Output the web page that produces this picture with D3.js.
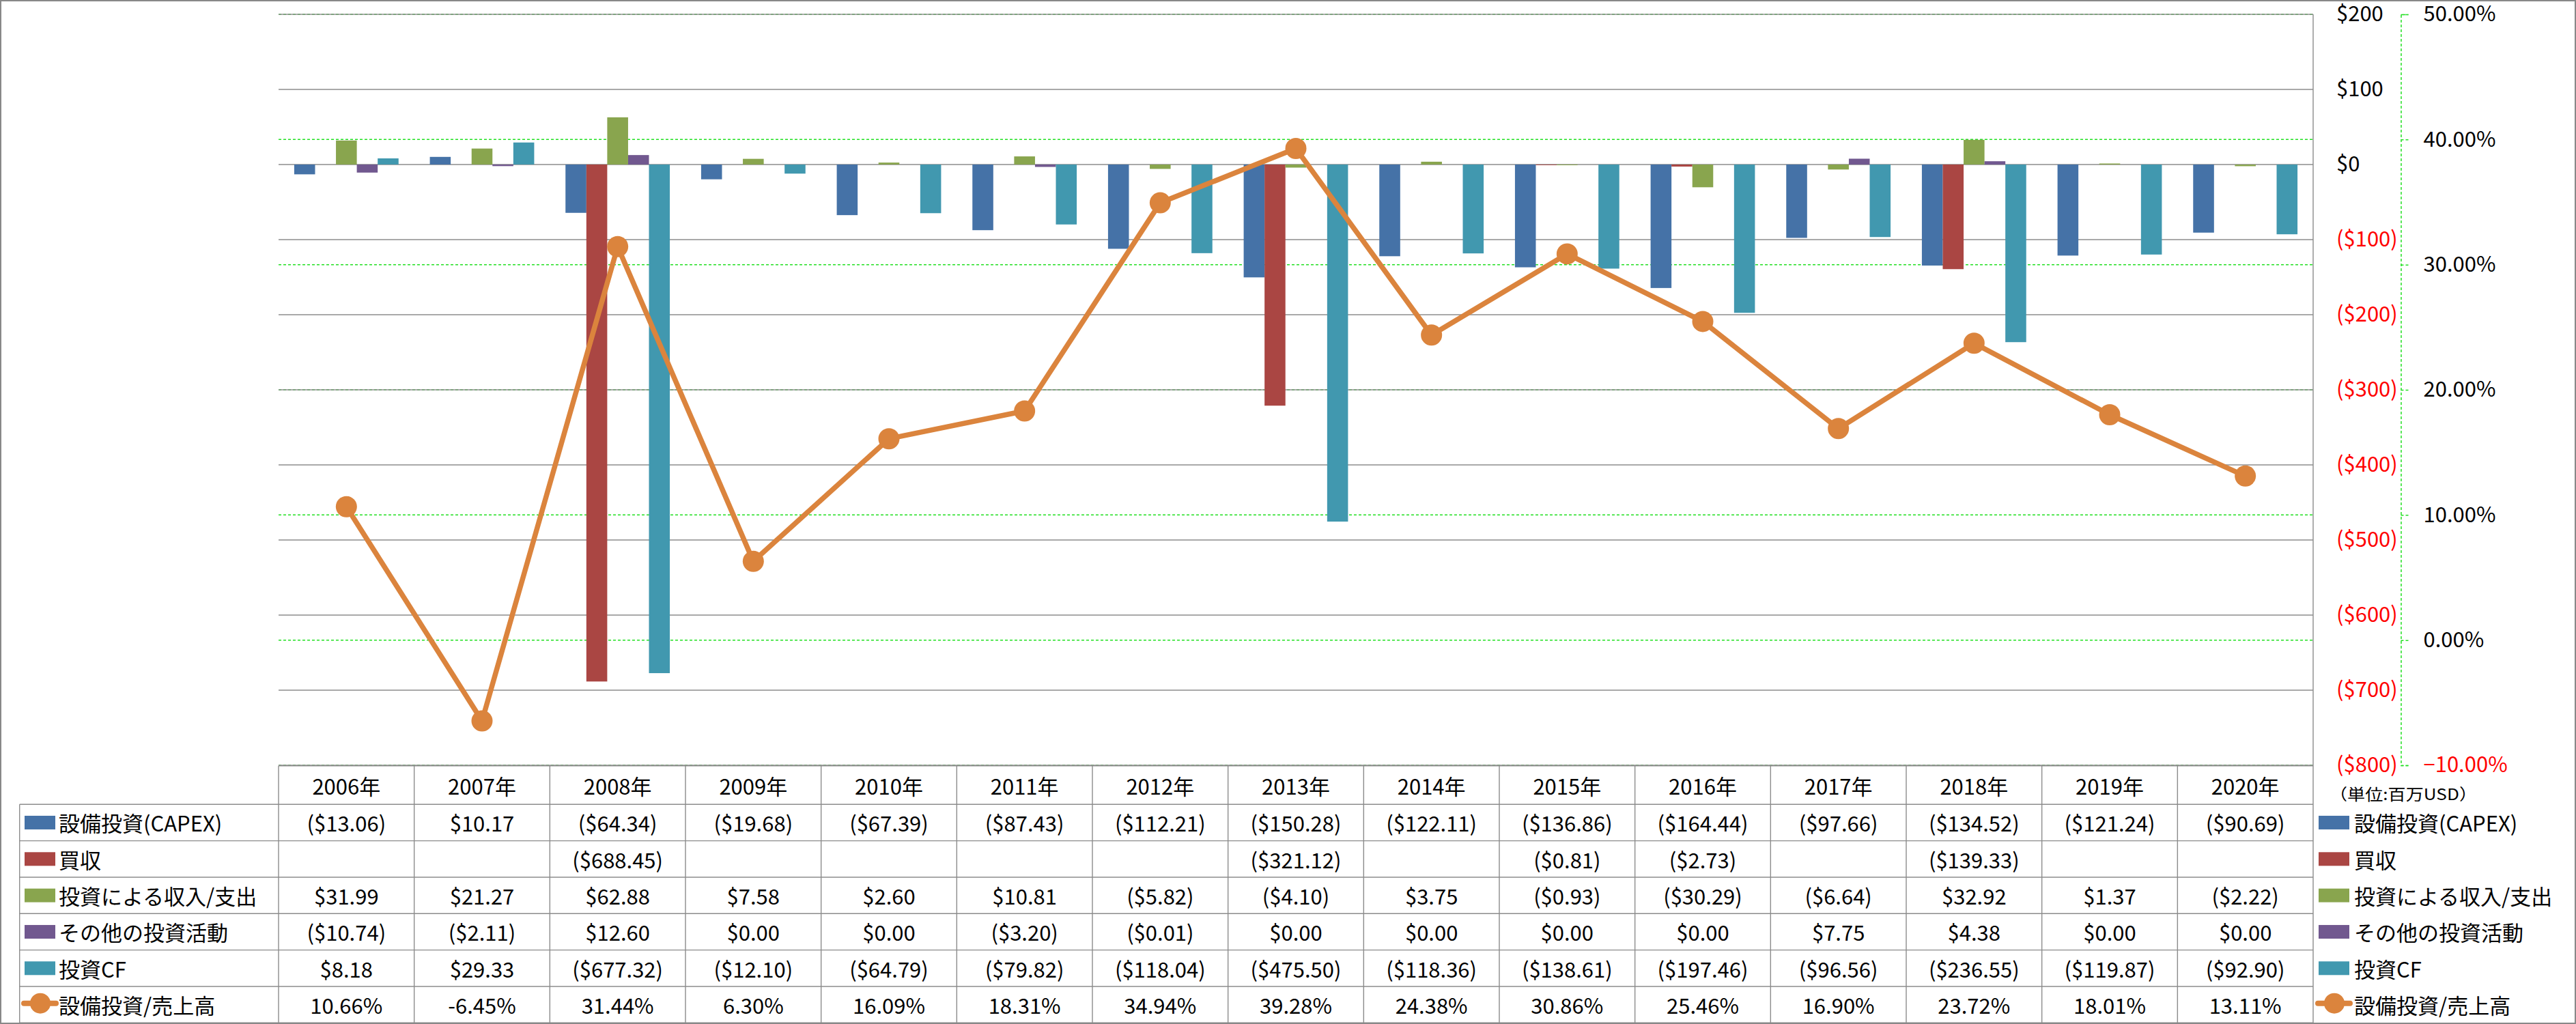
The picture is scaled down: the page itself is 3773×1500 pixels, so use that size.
<!DOCTYPE html>
<html>
<head>
<meta charset="utf-8">
<script src="https://cdn.jsdelivr.net/npm/d3@7"></script>
<style>
  html, body { margin: 0; padding: 0; background: #fff; }
  svg { display: block; }
</style>
</head>
<body>
<svg id="chart" width="3773" height="1500"></svg>
<script>
// ---------------- DATA ----------------
const years = ["2006年","2007年","2008年","2009年","2010年","2011年","2012年","2013年","2014年","2015年","2016年","2017年","2018年","2019年","2020年"];
const capex       = [-13.06, 10.17, -64.34, -19.68, -67.39, -87.43, -112.21, -150.28, -122.11, -136.86, -164.44, -97.66, -134.52, -121.24, -90.69];
const acquisition = [null, null, -688.45, null, null, null, null, -321.12, null, -0.81, -2.73, null, -139.33, null, null];
const invIncome   = [31.99, 21.27, 62.88, 7.58, 2.60, 10.81, -5.82, -4.10, 3.75, -0.93, -30.29, -6.64, 32.92, 1.37, -2.22];
const otherInv    = [-10.74, -2.11, 12.60, 0.00, 0.00, -3.20, -0.01, 0.00, 0.00, 0.00, 0.00, 7.75, 4.38, 0.00, 0.00];
const investCF    = [8.18, 29.33, -677.32, -12.10, -64.79, -79.82, -118.04, -475.50, -118.36, -138.61, -197.46, -96.56, -236.55, -119.87, -92.90];
const capexRatio  = [10.66, -6.45, 31.44, 6.30, 16.09, 18.31, 34.94, 39.28, 24.38, 30.86, 25.46, 16.90, 23.72, 18.01, 13.11];

const barSeriesNames = ["設備投資(CAPEX)", "買収", "投資による収入/支出", "その他の投資活動", "投資CF"];
const lineSeriesName = "設備投資/売上高";
const dollarTicks = [200, 100, 0, -100, -200, -300, -400, -500, -600, -700, -800];
const pctTicks = [50, 40, 30, 20, 10, 0, -10];
const unitLabel = "（単位:百万USD）";

// ---------------- STYLE ----------------
const barColors = ["#4572A7", "#AA4643", "#89A54E", "#71588F", "#4198AF"];
const lineColor = "#DB843D";
const gridGray = "#8c8c8c";
const gridGreen = "#22e022";
const FONT = "'Noto Sans CJK JP', 'Noto Sans', sans-serif";
const FS = 31;

const barSeries = [capex, acquisition, invIncome, otherInv, investCF];

const W = 3773, H = 1500;
const plot = { left: 408, right: 3388, top: 21, bottom: 1121 };

const svg = d3.select("#chart").attr("font-family", FONT);

// ---------------- SCALES ----------------
const x = d3.scaleBand().domain(years).range([plot.left, plot.right]).paddingInner(0).paddingOuter(0);
const xSub = d3.scaleBand().domain(d3.range(barSeries.length)).range([0, x.bandwidth()]).paddingInner(0).paddingOuter(0.75);
const yL = d3.scaleLinear().domain([-800, 200]).range([plot.bottom, plot.top]);
const yR = d3.scaleLinear().domain([-10, 50]).range([plot.bottom, plot.top]);

// ---------------- GRIDLINES ----------------
svg.append("g").selectAll("line").data(pctTicks).join("line")
  .attr("x1", plot.left).attr("x2", plot.right)
  .attr("y1", d => yR(d)).attr("y2", d => yR(d))
  .attr("stroke", gridGreen).attr("stroke-width", 1.5).attr("stroke-dasharray", "4,3");

svg.append("g").selectAll("line").data(dollarTicks).join("line")
  .attr("x1", plot.left).attr("x2", plot.right)
  .attr("y1", d => yL(d)).attr("y2", d => yL(d))
  .attr("stroke", gridGray).attr("stroke-width", 1.4);

// ---------------- BARS ----------------
barSeries.forEach((vals, si) => {
  svg.append("g").selectAll("rect")
    .data(vals.map((v, i) => ({ v, year: years[i] })).filter(d => d.v !== null))
    .join("rect")
    .attr("x", d => x(d.year) + xSub(si))
    .attr("width", xSub.bandwidth())
    .attr("y", d => yL(Math.max(0, d.v)))
    .attr("height", d => Math.abs(yL(d.v) - yL(0)))
    .attr("fill", barColors[si]);
});

// ---------------- LINE ----------------
const lineData = capexRatio.map((v, i) => ({ v, year: years[i] }));
const lineGen = d3.line().x(d => x(d.year) + x.bandwidth() / 2).y(d => yR(d.v));
svg.append("path").datum(lineData).attr("d", lineGen)
  .attr("fill", "none").attr("stroke", lineColor).attr("stroke-width", 7.5).attr("stroke-linejoin", "round");
svg.append("g").selectAll("circle").data(lineData).join("circle")
  .attr("cx", d => x(d.year) + x.bandwidth() / 2).attr("cy", d => yR(d.v)).attr("r", 15.5)
  .attr("fill", lineColor);

// ---------------- AXES ----------------
const fmtDollar = v => v < 0 ? `($${-v})` : `$${v}`;
const axL = svg.append("g").attr("transform", `translate(${plot.right},0)`)
  .call(d3.axisRight(yL).tickValues(dollarTicks).tickSize(0).tickPadding(34).tickFormat(fmtDollar));
axL.select(".domain").remove();
axL.attr("font-family", FONT).attr("font-size", FS);
axL.selectAll("text").attr("fill", d => d < 0 ? "#ff0000" : "#000");

const axisPctX = 3516.5;
const axR = svg.append("g").attr("transform", `translate(${axisPctX},0)`)
  .call(d3.axisRight(yR).tickValues(pctTicks).tickSize(11).tickPadding(22).tickFormat(v => d3.format(".2f")(v) + "%"));
axR.attr("font-family", FONT).attr("font-size", FS);
axR.select(".domain").attr("stroke", gridGreen).attr("stroke-width", 1.5).attr("stroke-dasharray", "4,3");
axR.selectAll(".tick line").attr("stroke", gridGreen).attr("stroke-width", 1.5).attr("stroke-dasharray", "4,3");
axR.selectAll("text").attr("fill", d => d < 0 ? "#ff0000" : "#000");

// unit label (stretched horizontally as in the reference)
svg.append("text").attr("x", 3412).attr("y", 1162).attr("dominant-baseline", "central")
  .attr("font-size", 23).attr("fill", "#000")
  .attr("textLength", 216).attr("lengthAdjust", "spacingAndGlyphs").text(unitLabel);

// ---------------- DATA TABLE ----------------
const rowNames = [...barSeriesNames, lineSeriesName];
const rowVals = [...barSeries, capexRatio];
const headerTop = 1121.7, headerBottom = 1178.3, tableBottom = 1498.3, tableLeft = 28.7;
const yRow = d3.scaleBand().domain(d3.range(rowNames.length)).range([headerBottom, tableBottom]);

const tbl = svg.append("g");
tbl.append("line").attr("x1", plot.left).attr("x2", plot.right).attr("y1", headerTop).attr("y2", headerTop)
  .attr("stroke", gridGray).attr("stroke-width", 1.4);
tbl.selectAll(".hl").data(d3.range(rowNames.length + 1)).join("line")
  .attr("x1", tableLeft).attr("x2", plot.right)
  .attr("y1", i => i < rowNames.length ? yRow(i) : tableBottom)
  .attr("y2", i => i < rowNames.length ? yRow(i) : tableBottom)
  .attr("stroke", gridGray).attr("stroke-width", 1.4);
tbl.selectAll(".vl").data(d3.range(years.length + 1)).join("line")
  .attr("x1", i => i < years.length ? x(years[i]) : plot.right)
  .attr("x2", i => i < years.length ? x(years[i]) : plot.right)
  .attr("y1", i => i === years.length ? plot.top : headerTop).attr("y2", tableBottom)
  .attr("stroke", gridGray).attr("stroke-width", 1.4);
tbl.append("line").attr("x1", tableLeft).attr("x2", tableLeft).attr("y1", headerBottom).attr("y2", tableBottom)
  .attr("stroke", gridGray).attr("stroke-width", 1.4);

tbl.selectAll(".yr").data(years).join("text")
  .attr("x", d => x(d) + x.bandwidth() / 2).attr("y", (headerTop + headerBottom) / 2)
  .attr("text-anchor", "middle").attr("dominant-baseline", "central")
  .attr("font-size", FS).text(d => d);

const fmtMoney = v => v === null ? "" : (v < 0 ? `($${(-v).toFixed(2)})` : `$${v.toFixed(2)}`);
const fmtPct = v => v.toFixed(2) + "%";

rowVals.forEach((vals, ri) => {
  const fmt = ri === rowVals.length - 1 ? fmtPct : fmtMoney;
  tbl.append("g").selectAll("text").data(vals.map((v, i) => ({ v, year: years[i] }))).join("text")
    .attr("x", d => x(d.year) + x.bandwidth() / 2)
    .attr("y", yRow(ri) + yRow.bandwidth() / 2)
    .attr("text-anchor", "middle").attr("dominant-baseline", "central")
    .attr("font-size", FS).text(d => fmt(d.v));
});

// legend keys (left column and right side)
function legendKey(g, ri, x0, textX) {
  const cy = yRow(ri) + yRow.bandwidth() / 2;
  if (ri < barSeriesNames.length) {
    g.append("rect").attr("x", x0).attr("y", cy - 10).attr("width", 45).attr("height", 20).attr("fill", barColors[ri]);
  } else {
    const my = cy - 2;
    g.append("line").attr("x1", x0 - 1).attr("x2", x0 + 46).attr("y1", my).attr("y2", my)
      .attr("stroke", lineColor).attr("stroke-width", 8).attr("stroke-linecap", "round");
    g.append("circle").attr("cx", x0 + 23).attr("cy", my).attr("r", 15).attr("fill", lineColor);
  }
  g.append("text").attr("x", textX).attr("y", cy).attr("dominant-baseline", "central")
    .attr("font-size", FS).text(rowNames[ri]);
}
const legL = svg.append("g"), legR = svg.append("g");
rowNames.forEach((n, ri) => {
  legendKey(legL, ri, 36, 86);
  legendKey(legR, ri, 3396, 3448);
});

// outer frame
svg.append("rect").attr("x", 1).attr("y", 1).attr("width", W - 2).attr("height", H - 2)
  .attr("fill", "none").attr("stroke", "#888").attr("stroke-width", 2);
</script>
</body>
</html>
